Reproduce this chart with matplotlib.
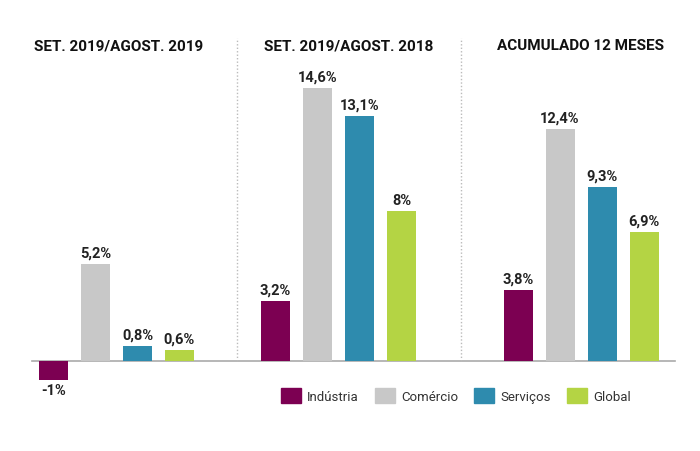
import matplotlib.pyplot as plt
from matplotlib.patches import Patch

periods = ["SET. 2019/AGOST. 2019", "SET. 2019/AGOST. 2018", "ACUMULADO 12 MESES"]
sectors = ["Indústria", "Comércio", "Serviços", "Global"]
values = {
    "Indústria": [-1.0, 3.2, 3.8],
    "Comércio": [5.2, 14.6, 12.4],
    "Serviços": [0.8, 13.1, 9.3],
    "Global": [0.6, 8.0, 6.9],
}
labels = {
    "Indústria": ["-1%", "3,2%", "3,8%"],
    "Comércio": ["5,2%", "14,6%", "12,4%"],
    "Serviços": ["0,8%", "13,1%", "9,3%"],
    "Global": ["0,6%", "8%", "6,9%"],
}
colors = ["#7c0052", "#c8c8c8", "#2e8bae", "#b4d444"]

plt.rcParams["font.family"] = ["Roboto", "DejaVu Sans"]

fig = plt.figure(figsize=(7, 4.52), dpi=100)
ax = fig.add_axes([0, 0, 1, 1])
ax.set_xlim(0, 700)
ax.set_ylim(-4.81, 19.36)
ax.axis("off")

# layout in pixel-like x units
group_centers = [116.5, 338.5, 581]
bar_step, bar_w = 42, 29
section_edges = [0, 237, 461, 700]

for i, (s, c) in enumerate(zip(sectors, colors)):
    xs = [gc + (i - 1.5) * bar_step for gc in group_centers]
    ax.bar(xs, values[s], width=bar_w, color=c, zorder=2)
    for x, v, lab in zip(xs, values[s], labels[s]):
        if v >= 0:
            ax.text(x, v + 0.25, lab, ha="center", va="bottom",
                    fontsize=10.5, fontweight="bold", color="#222222")
        else:
            ax.text(x, v - 0.2, lab, ha="center", va="top",
                    fontsize=10.5, fontweight="bold", color="#222222")

ax.plot([32, 675], [0, 0], color="#aaaaaa", lw=1.2, zorder=1)
for xe in section_edges[1:-1]:
    ax.plot([xe, xe], [0, 17.3], color="#bbbbbb", lw=1, ls=(0, (1, 1.5)), zorder=1)

for g, p in enumerate(periods):
    xc = (section_edges[g] + section_edges[g + 1]) / 2
    ax.text(xc, 16.9, p, ha="center", va="center", fontsize=11,
            fontweight="bold", color="#111111")

handles = [Patch(color=c, label=s) for s, c in zip(sectors, colors)]
fig.legend(handles=handles, loc="center", bbox_to_anchor=(0.651, 0.122), ncol=4,
           frameon=False, fontsize=9.5, handlelength=1.55, handleheight=1.35,
           handletextpad=0.45, columnspacing=1.2, labelcolor="#333333")

fig.savefig("out.png", dpi=100)
